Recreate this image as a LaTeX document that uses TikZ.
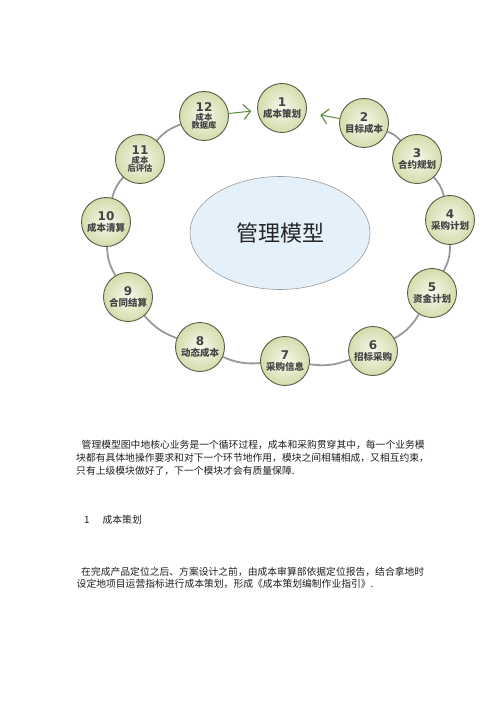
\documentclass[tikz,border=0pt]{standalone}
\usepackage{fontspec}
\newfontfamily\cjk{Noto Sans CJK SC}
\newfontfamily\numfont{DejaVu Sans}
\usetikzlibrary{arrows.meta,shapes.geometric,backgrounds}
\definecolor{nodeborder}{HTML}{585C48}
\definecolor{nodein}{HTML}{F7F8EC}
\definecolor{nodeout}{HTML}{D4DCAC}
\definecolor{nodetext}{HTML}{444444}
\definecolor{linkgray}{HTML}{999999}
\definecolor{arrowgreen}{HTML}{5B8C3E}
\definecolor{ellfill}{HTML}{E4F1FB}
\definecolor{ellborder}{HTML}{9A9A9A}
\definecolor{paratext}{HTML}{1E1E1E}
\newcommand\stnum[1]{{\numfont\bfseries\fontsize{12}{12}\selectfont #1}}
\newcommand\stname[1]{{\cjk\bfseries\fontsize{9.5}{9.5}\selectfont #1}}
\newcommand\stsmall[1]{{\cjk\bfseries\fontsize{8.3}{8.3}\selectfont #1}}
\begin{document}
\begin{tikzpicture}[x=1pt,y=-1pt,
  stage/.style={circle, minimum size=49pt, inner sep=0pt, draw=nodeborder,
    line width=0.9pt, inner color=nodein, outer color=nodeout,
    align=center, text=nodetext, font=\fontsize{9}{9}\selectfont},
  link/.style={draw=linkgray, line width=1.8pt, bend left=14},
  garrow/.style={draw=arrowgreen, line width=1pt,
    -{Straight Barb[length=7pt,width=15pt,line width=1.1pt]}},
  para/.style={anchor=west, inner sep=0pt, text=paratext,
    font=\cjk\fontsize{9.8}{12}\selectfont}]
\useasboundingbox (0,0) rectangle (500,708);

% center ellipse
\node[ellipse, minimum width=180pt, minimum height=113pt, inner sep=0pt,
  draw=ellborder, line width=0.6pt, fill=ellfill,
  font=\cjk\fontsize{22}{22}\selectfont, text=black!85] (core) at (280,233)
  {\raisebox{1.5pt}{管理模型}};

% stages
\node[stage] (n1)  at (282,108) {\stnum{1}\\[2pt]\stname{成本策划}};
\node[stage] (n2)  at (364,123) {\stnum{2}\\[2pt]\stname{目标成本}};
\node[stage] (n3)  at (417,159) {\stnum{3}\\[2pt]\stname{合约规划}};
\node[stage] (n4)  at (450,220) {\stnum{4}\\[2pt]\stname{采购计划}};
\node[stage] (n5)  at (432,293) {\stnum{5}\\[2pt]\stname{资金计划}};
\node[stage] (n6)  at (373,351) {\stnum{6}\\[2pt]\stname{招标采购}};
\node[stage] (n7)  at (285,361) {\stnum{7}\\[2pt]\stname{采购信息}};
\node[stage] (n8)  at (200,347) {\stnum{8}\\[2pt]\stname{动态成本}};
\node[stage] (n9)  at (128,297) {\stnum{9}\\[2pt]\stname{合同结算}};
\node[stage] (n10) at (106,222) {\stnum{10}\\[2pt]\stname{成本清算}};
\node[stage] (n11) at (140,159) {\stnum{11}\\[0pt]\stsmall{成本}\\[-0.5pt]\stsmall{后评估}};
\node[stage] (n12) at (204,116) {\stnum{12}\\[0pt]\stsmall{成本}\\[-0.5pt]\stsmall{数据库}};

% connectors
\begin{scope}[on background layer]
\draw[link] (n2) to (n3);
\draw[link] (n3) to (n4);
\draw[link] (n4) to (n5);
\draw[link] (n5) to (n6);
\draw[link] (n6) to (n7);
\draw[link] (n7) to (n8);
\draw[link] (n8) to (n9);
\draw[link] (n9) to (n10);
\draw[link] (n10) to (n11);
\draw[link] (n11) to (n12);
\end{scope}
\draw[garrow, shorten >=6pt] (n12) -- (n1);
\draw[garrow, shorten >=14pt] (n2) -- (n1);

% text
\node[para] (p1a) at (81.5,445)
  {管理模型图中地核心业务是一个循环过程，成本和采购贯穿其中，每一个业务模};
\node[para] (p1b) at (76,457.5)
  {块都有具体地操作要求和对下一个环节地作用，模块之间相辅相成，又相互约束，};
\node[para] (p1c) at (76,470.5)
  {只有上级模块做好了，下一个模块才会有质量保障.};
\node[para] (h1) at (84,520) {1\hspace{13pt}成本策划};
\node[para] (p2a) at (81,571.5)
  {在完成产品定位之后、方案设计之前，由成本审算部依据定位报告，结合拿地时};
\node[para] (p2b) at (76.5,583.5)
  {设定地项目运营指标进行成本策划，形成《成本策划编制作业指引》.};
\end{tikzpicture}
\end{document}
